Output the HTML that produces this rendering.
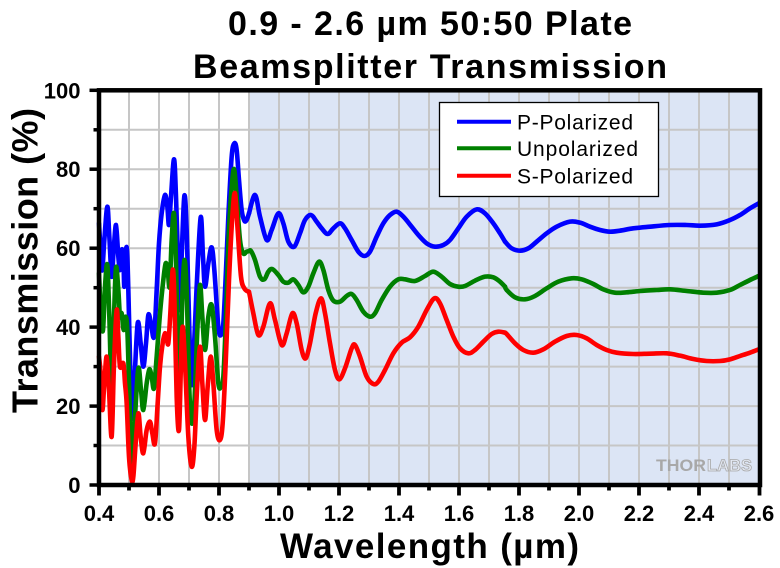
<!DOCTYPE html>
<html>
<head>
<meta charset="utf-8">
<style>
  html, body { margin: 0; padding: 0; background: #ffffff; }
  svg { display: block; }
  text { font-family: "Liberation Sans", Arial, sans-serif; }
</style>
</head>
<body>
<svg width="780" height="568" viewBox="0 0 780 568" xmlns="http://www.w3.org/2000/svg">
  <rect x="0" y="0" width="780" height="568" fill="#ffffff"/>

  <!-- shaded region -->
  <rect x="249" y="90.3" width="511" height="394.7" fill="#dce5f5"/>

  <!-- grid -->
  <g stroke="#c6c6c6" stroke-width="2">
    <line x1="129" y1="90" x2="129" y2="485"/>
    <line x1="159" y1="90" x2="159" y2="485"/>
    <line x1="189" y1="90" x2="189" y2="485"/>
    <line x1="219" y1="90" x2="219" y2="485"/>
    <line x1="249" y1="90" x2="249" y2="485"/>
    <line x1="279" y1="90" x2="279" y2="485"/>
    <line x1="309" y1="90" x2="309" y2="485"/>
    <line x1="339" y1="90" x2="339" y2="485"/>
    <line x1="369" y1="90" x2="369" y2="485"/>
    <line x1="399" y1="90" x2="399" y2="485"/>
    <line x1="429" y1="90" x2="429" y2="485"/>
    <line x1="459" y1="90" x2="459" y2="485"/>
    <line x1="489" y1="90" x2="489" y2="485"/>
    <line x1="519" y1="90" x2="519" y2="485"/>
    <line x1="549" y1="90" x2="549" y2="485"/>
    <line x1="579" y1="90" x2="579" y2="485"/>
    <line x1="609" y1="90" x2="609" y2="485"/>
    <line x1="639" y1="90" x2="639" y2="485"/>
    <line x1="669" y1="90" x2="669" y2="485"/>
    <line x1="699" y1="90" x2="699" y2="485"/>
    <line x1="729" y1="90" x2="729" y2="485"/>
    <line x1="99" y1="445.5" x2="760" y2="445.5"/>
    <line x1="99" y1="406.1" x2="760" y2="406.1"/>
    <line x1="99" y1="366.6" x2="760" y2="366.6"/>
    <line x1="99" y1="327.1" x2="760" y2="327.1"/>
    <line x1="99" y1="287.7" x2="760" y2="287.7"/>
    <line x1="99" y1="248.2" x2="760" y2="248.2"/>
    <line x1="99" y1="208.7" x2="760" y2="208.7"/>
    <line x1="99" y1="169.2" x2="760" y2="169.2"/>
    <line x1="99" y1="129.8" x2="760" y2="129.8"/>
  </g>

  <!-- Thorlabs mark -->
  <text x="656" y="471" font-size="17" font-weight="bold" fill="#a8a8a8" textLength="50" lengthAdjust="spacingAndGlyphs">THOR</text>
  <text x="707" y="471" font-size="17" font-weight="bold" fill="#e4e9f3" stroke="#a8a8a8" stroke-width="0.8" textLength="45" lengthAdjust="spacingAndGlyphs">LABS</text>

  <!-- curves -->
  <g fill="none" stroke-linejoin="round" stroke-linecap="round">
    <!-- Blue -->
    <g stroke="#0000ff">
      <path class="sm" vector-effect="non-scaling-stroke" stroke-width="4.6" transform="translate(95,130) scale(0.333333)"
        d="M12,280 L18,380 22,420 28,330 37,230 43,320 50,440 56,360 63,285 70,380 75,420 80,360 85,380 88,470 93,360 97,380 102,560 108,800 112,865 118,760 128,580 137,640 145,710 153,640 160,555 168,580 177,620 185,480 192,340 200,250 210,195 217,230 222,285 228,200 237,88 243,200 250,420 255,540 260,380 268,198 275,300 283,600 290,765 297,650 305,470 317,262 324,380 330,470 340,400 350,352 358,420 370,590 378,615 385,580 393,420 400,260 410,80 418,40 425,60 432,150 440,240 448,272 455,270 462,250"/>
      <path class="sm" vector-effect="non-scaling-stroke" stroke-width="4.6" transform="translate(245,180) scale(0.333333)"
        d="M12,100 L30,45 45,110 65,180 80,150 100,100 115,130 130,185 148,200 165,160 180,120 198,105 215,125 230,145 248,162 265,145 285,130 300,145 320,180 340,215 358,228 375,215 395,170 415,130 435,105 455,95 475,110 500,140 520,165 545,190 570,200 595,195 615,180 640,145 665,110 695,88 720,100 745,130 765,160 780,185"/>
      <path class="sm" vector-effect="non-scaling-stroke" stroke-width="4.6" transform="translate(500,180) scale(0.333333)"
        d="M15,185 L35,205 60,212 85,205 110,185 140,160 170,140 210,125 240,128 270,140 300,150 330,155 360,152 400,145 450,140 510,135 560,135 600,137 650,133 690,120 720,105 750,85 776,70"/>
    </g>
    <!-- Green -->
    <g stroke="#008000">
      <path class="sm" vector-effect="non-scaling-stroke" stroke-width="4.6" transform="translate(95,130) scale(0.333333)"
        d="M12,430 L18,560 24,600 30,470 37,405 43,560 50,780 57,560 63,412 70,480 75,560 80,550 86,600 92,560 97,600 102,760 108,960 113,990 120,860 130,715 138,780 145,840 155,760 163,718 170,740 177,775 185,680 195,550 205,450 212,400 218,420 224,470 230,330 237,250 243,400 250,700 256,720 262,500 268,390 275,480 283,780 290,880 298,820 307,600 315,465 322,560 330,660 340,560 350,525 360,620 370,760 378,770 385,740 393,560 402,300 412,150 418,120 425,200 435,330 445,370 455,365 462,363"/>
      <path class="sm" vector-effect="non-scaling-stroke" stroke-width="4.6" transform="translate(245,180) scale(0.333333)"
        d="M12,213 L18,213 30,240 45,290 58,298 70,275 82,267 100,285 115,305 130,308 145,298 160,315 175,337 190,320 205,280 222,245 235,270 250,330 265,362 285,365 305,348 320,342 335,360 355,395 375,410 390,400 410,360 435,320 460,298 480,298 510,303 540,288 565,275 590,290 615,312 640,320 660,318 690,302 720,290 745,292 765,305 780,320"/>
      <path class="sm" vector-effect="non-scaling-stroke" stroke-width="4.6" transform="translate(500,180) scale(0.333333)"
        d="M15,320 L20,330 45,352 75,358 105,348 140,325 175,305 215,295 245,298 280,312 310,328 345,338 380,337 420,333 470,330 510,328 560,333 610,338 650,338 690,330 720,315 750,300 776,288"/>
    </g>
    <!-- Red -->
    <g stroke="#ff0000">
      <path class="sm" vector-effect="non-scaling-stroke" stroke-width="4.6" transform="translate(95,130) scale(0.333333)"
        d="M12,680 L17,730 22,840 28,760 35,680 42,780 50,920 57,700 65,540 70,620 75,710 85,700 90,760 95,820 102,980 110,1050 115,1040 122,940 130,850 137,920 145,970 155,900 165,875 172,910 180,940 188,820 195,710 203,640 210,610 215,625 220,640 226,550 233,420 238,500 245,800 252,900 258,700 263,590 270,700 280,920 290,1010 298,950 306,780 315,650 322,760 330,870 338,770 347,680 355,760 365,900 375,930 383,880 392,700 402,450 412,260 420,190 428,300 438,440 448,475 460,485"/>
      <path class="sm" vector-effect="non-scaling-stroke" stroke-width="4.6" transform="translate(245,180) scale(0.333333)"
        d="M12,335 L25,400 40,465 55,440 75,370 90,420 110,495 125,460 142,400 155,430 170,510 182,535 195,490 212,400 228,355 240,400 255,490 270,570 283,598 300,565 320,505 330,495 345,530 365,590 385,612 400,605 420,570 445,520 470,488 495,472 520,440 545,390 568,355 585,370 605,420 625,470 645,505 670,520 690,510 715,485 740,462 760,455 780,458"/>
      <path class="sm" vector-effect="non-scaling-stroke" stroke-width="4.6" transform="translate(500,180) scale(0.333333)"
        d="M15,458 L20,462 45,490 70,510 100,518 130,508 165,485 200,468 230,465 260,475 290,495 320,510 350,518 400,522 450,521 500,520 540,527 580,537 620,543 660,543 690,538 720,528 750,518 776,508"/>
    </g>
  </g>

  <!-- legend -->
  <rect x="439.5" y="102.5" width="219" height="94" fill="#ffffff" stroke="#000000" stroke-width="1.3"/>
  <line x1="457" y1="121.7" x2="511" y2="121.7" stroke="#0000ff" stroke-width="4"/>
  <line x1="457" y1="148.3" x2="511" y2="148.3" stroke="#008000" stroke-width="4"/>
  <line x1="457" y1="175.7" x2="511" y2="175.7" stroke="#ff0000" stroke-width="4"/>
  <text x="517" y="129.5" font-size="21" fill="#000" textLength="116" lengthAdjust="spacing">P-Polarized</text>
  <text x="517" y="156" font-size="21" fill="#000" textLength="121" lengthAdjust="spacing">Unpolarized</text>
  <text x="517" y="183.3" font-size="21" fill="#000" textLength="116" lengthAdjust="spacing">S-Polarized</text>

  <!-- frame -->
  <rect x="99" y="90.3" width="661" height="394.7" fill="none" stroke="#000000" stroke-width="4.5"/>

  <!-- x ticks -->
  <g stroke="#000" stroke-width="3.8">
    <line x1="99" y1="485" x2="99" y2="495.5"/>
    <line x1="129" y1="485" x2="129" y2="490.5"/>
    <line x1="159" y1="485" x2="159" y2="495.5"/>
    <line x1="189" y1="485" x2="189" y2="490.5"/>
    <line x1="219" y1="485" x2="219" y2="495.5"/>
    <line x1="249" y1="485" x2="249" y2="490.5"/>
    <line x1="279" y1="485" x2="279" y2="495.5"/>
    <line x1="309" y1="485" x2="309" y2="490.5"/>
    <line x1="339" y1="485" x2="339" y2="495.5"/>
    <line x1="369" y1="485" x2="369" y2="490.5"/>
    <line x1="399" y1="485" x2="399" y2="495.5"/>
    <line x1="429" y1="485" x2="429" y2="490.5"/>
    <line x1="459" y1="485" x2="459" y2="495.5"/>
    <line x1="489" y1="485" x2="489" y2="490.5"/>
    <line x1="519" y1="485" x2="519" y2="495.5"/>
    <line x1="549" y1="485" x2="549" y2="490.5"/>
    <line x1="579" y1="485" x2="579" y2="495.5"/>
    <line x1="609" y1="485" x2="609" y2="490.5"/>
    <line x1="639" y1="485" x2="639" y2="495.5"/>
    <line x1="669" y1="485" x2="669" y2="490.5"/>
    <line x1="699" y1="485" x2="699" y2="495.5"/>
    <line x1="729" y1="485" x2="729" y2="490.5"/>
    <line x1="759.5" y1="485" x2="759.5" y2="495.5"/>
  </g>
  <!-- y ticks -->
  <g stroke="#000" stroke-width="3.5">
    <line x1="89.5" y1="485" x2="99" y2="485"/>
    <line x1="93.5" y1="445.5" x2="99" y2="445.5"/>
    <line x1="89.5" y1="406.1" x2="99" y2="406.1"/>
    <line x1="93.5" y1="366.6" x2="99" y2="366.6"/>
    <line x1="89.5" y1="327.1" x2="99" y2="327.1"/>
    <line x1="93.5" y1="287.7" x2="99" y2="287.7"/>
    <line x1="89.5" y1="248.2" x2="99" y2="248.2"/>
    <line x1="93.5" y1="208.7" x2="99" y2="208.7"/>
    <line x1="89.5" y1="169.2" x2="99" y2="169.2"/>
    <line x1="93.5" y1="129.8" x2="99" y2="129.8"/>
    <line x1="89.5" y1="90.3" x2="99" y2="90.3"/>
  </g>

  <!-- x tick labels -->
  <g font-size="22" font-weight="bold" fill="#000" text-anchor="middle">
    <text x="99" y="521">0.4</text>
    <text x="159" y="521">0.6</text>
    <text x="219" y="521">0.8</text>
    <text x="279" y="521">1.0</text>
    <text x="339" y="521">1.2</text>
    <text x="399" y="521">1.4</text>
    <text x="459" y="521">1.6</text>
    <text x="519" y="521">1.8</text>
    <text x="579" y="521">2.0</text>
    <text x="639" y="521">2.2</text>
    <text x="699" y="521">2.4</text>
    <text x="759" y="521">2.6</text>
  </g>

  <!-- y tick labels -->
  <g font-size="22" font-weight="bold" fill="#000" text-anchor="end">
    <text x="80.5" y="493">0</text>
    <text x="80.5" y="414">20</text>
    <text x="80.5" y="335">40</text>
    <text x="80.5" y="256">60</text>
    <text x="80.5" y="177">80</text>
    <text x="80.5" y="98.5">100</text>
  </g>

  <!-- axis titles -->
  <text x="280" y="558" font-size="35" font-weight="bold" fill="#000" textLength="299" lengthAdjust="spacing">Wavelength (µm)</text>
  <text transform="translate(37.5,413) rotate(-90)" x="0" y="0" font-size="36" font-weight="bold" fill="#000" textLength="305" lengthAdjust="spacing">Transmission (%)</text>

  <!-- title -->
  <text x="228" y="35" font-size="34" font-weight="bold" fill="#000" textLength="404" lengthAdjust="spacing">0.9 - 2.6 µm 50:50 Plate</text>
  <text x="193" y="78" font-size="34" font-weight="bold" fill="#000" textLength="474" lengthAdjust="spacing">Beamsplitter Transmission</text>
</svg>
<script>
(function(){
  var paths = document.querySelectorAll('path.sm');
  for (var k = 0; k < paths.length; k++) {
    var p = paths[k];
    var nums = p.getAttribute('d').match(/-?\d+(\.\d+)?/g).map(Number);
    var pts = [];
    for (var i = 0; i + 1 < nums.length; i += 2) pts.push([nums[i], nums[i+1]]);
    if (pts.length < 3) continue;
    var d = 'M' + pts[0][0] + ',' + pts[0][1];
    for (var i = 0; i < pts.length - 1; i++) {
      var p0 = pts[i > 0 ? i - 1 : i], p1 = pts[i], p2 = pts[i + 1], p3 = pts[i + 2 < pts.length ? i + 2 : i + 1];
      var t = 6;
      var c1x = p1[0] + (p2[0] - p0[0]) / t, c1y = p1[1] + (p2[1] - p0[1]) / t;
      var c2x = p2[0] - (p3[0] - p1[0]) / t, c2y = p2[1] - (p3[1] - p1[1]) / t;
      d += ' C' + c1x.toFixed(1) + ',' + c1y.toFixed(1) + ' ' + c2x.toFixed(1) + ',' + c2y.toFixed(1) + ' ' + p2[0] + ',' + p2[1];
    }
    p.setAttribute('d', d);
  }
})();
</script>
</body>
</html>
